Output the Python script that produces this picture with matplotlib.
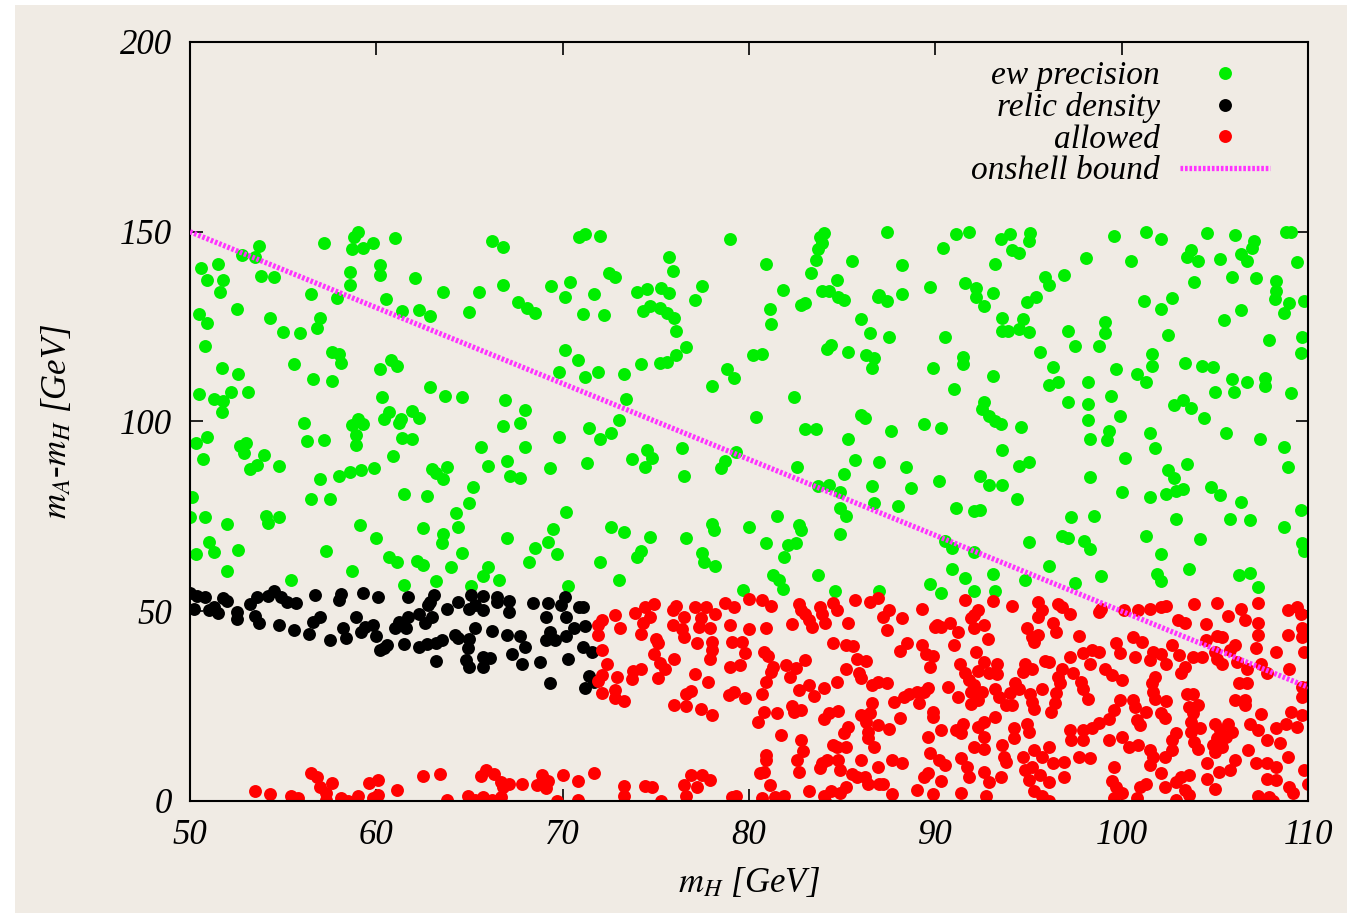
import numpy as np
import matplotlib
matplotlib.use("Agg")
import matplotlib.pyplot as plt
from matplotlib.patches import Rectangle

plt.rcParams['font.family'] = ['Liberation Serif', 'DejaVu Serif']
plt.rcParams['font.style'] = 'italic'
plt.rcParams['mathtext.fontset'] = 'stix'

# (m_H, m_A - m_H), GeV
ew_precision = np.array([
    (57.2,147.1),(59.0,150.0),(58.8,148.7),(58.7,145.4),(59.3,145.6),(59.8,147.0),(53.7,146.3),(52.8,143.9),
    (53.5,143.3),(50.6,140.4),(51.5,141.5),(50.9,137.2),(51.8,137.3),(51.6,134.0),(53.8,138.3),(54.5,138.0),
    (58.6,139.5),(58.6,136.0),(56.5,133.6),(57.9,132.6),(50.5,128.3),(50.9,126.0),(52.5,129.6),(54.3,127.3),
    (55.0,123.6),(55.9,123.4),(56.8,124.6),(57.0,127.4),(50.8,119.9),(51.7,114.0),(52.6,112.5),(55.6,115.1),
    (57.6,118.2),(58.0,117.8),(58.1,115.3),(56.6,111.1),(57.6,110.8),(50.5,107.2),(51.3,105.9),(51.8,105.4),
    (52.2,107.9),(53.1,107.9),(51.7,102.6),(56.1,99.5),(56.3,94.9),(57.2,95.1),(58.7,99.1),(59.0,100.6),
    (59.3,99.3),(58.9,96.4),(58.9,93.8),(50.3,94.3),(50.9,96.0),(50.7,90.2),(52.7,93.6),(53.0,94.3),
    (52.9,91.6),(54.0,91.2),(53.2,87.4),(53.6,88.5),(54.8,88.3),(57.0,84.8),(58.0,85.6),(58.6,86.6),
    (59.2,87.2),(59.9,87.7),(50.1,80.0),(56.5,79.7),(57.5,79.7),(50.0,74.9),(50.8,74.9),(54.1,75.2),
    (54.8,74.7),(52.0,73.0),(54.2,73.2),(51.0,68.2),(51.3,65.7),(50.3,65.0),(52.6,66.1),(52.0,60.6),
    (55.4,58.2),(57.3,66.0),(59.1,72.7),(58.7,60.7),(60.0,69.2),
    (61.0,148.4),(66.2,147.6),(66.8,146.1),(60.2,141.2),(60.2,138.6),(62.1,137.9),(63.6,134.2),(65.5,134.2),
    (66.8,136.0),(69.4,135.8),(70.1,132.9),(70.4,136.8),(60.5,132.3),(61.4,129.1),(62.3,129.5),(62.9,127.8),
    (65.0,128.9),(67.6,131.6),(68.1,129.8),(68.5,128.7),(70.1,118.8),(69.8,113.0),(60.8,116.2),(61.1,114.6),
    (60.2,113.8),(62.9,109.0),(63.7,106.7),(64.6,106.5),(66.9,105.7),(68.0,103.0),(66.8,98.9),(67.7,99.5),
    (69.8,96.0),(60.3,106.5),(60.7,102.6),(60.4,100.6),(61.3,100.6),(61.2,99.5),(61.9,102.8),(62.3,100.8),
    (61.4,95.6),(61.9,95.4),(60.9,90.9),(65.6,93.2),(68.0,93.2),(63.0,87.6),(63.2,86.3),(63.8,87.9),
    (63.6,84.8),(66.0,88.4),(67.0,89.6),(67.2,85.6),(67.7,85.2),(69.3,87.7),(61.5,80.9),(62.7,80.4),
    (65.2,82.8),(65.0,78.4),(64.3,75.8),(70.2,76.2),
    (62.5,71.9),(63.6,70.4),(63.5,67.9),(64.4,72.3),(64.6,65.3),(64.0,61.7),(60.7,64.4),(61.1,63.1),
    (62.2,63.3),(62.5,62.2),(61.5,56.9),(63.2,58.0),(66.0,61.7),(65.7,59.3),(65.1,56.7),(66.6,58.1),
    (67.0,69.2),(68.5,66.6),(69.2,68.2),(69.5,71.6),(69.7,65.1),(68.2,63.1),(70.3,56.7),
    (70.9,148.5),(71.2,149.5),(72.0,148.9),(79.0,148.2),(75.7,143.3),(75.9,139.7),(72.5,139.2),(72.8,138.0),
    (71.7,133.6),(71.1,128.2),(72.2,128.1),(74.0,134.2),(74.5,134.9),(75.3,135.1),(75.7,133.9),(77.5,135.7),
    (77.1,132.0),(74.3,129.2),(74.7,130.4),(75.2,129.8),(75.6,128.5),(76.0,127.4),(76.1,123.8),(76.6,119.7),
    (76.1,117.5),(75.2,115.3),(75.6,115.7),(74.2,115.1),(70.8,116.2),(71.2,111.6),(71.9,113.1),(73.3,112.5),
    (78.8,113.8),(79.2,111.5),(78.0,109.4),(80.2,117.5),(73.4,105.9),(73.0,100.4),(72.6,97.0),(71.4,98.2),
    (72.0,95.4),(71.3,89.1),(73.7,90.2),(74.5,92.5),(74.8,90.5),(74.4,88.1),(76.4,92.9),(76.5,85.6),
    (79.3,92.0),(78.7,89.7),(78.5,87.7),(80.4,101.1),
    (72.6,72.1),(73.3,71.0),(74.7,69.6),(74.2,66.0),(74.0,64.4),(72.0,63.1),(73.0,58.1),(76.6,69.2),
    (78.0,73.0),(78.1,71.4),(77.5,65.4),(77.6,63.1),(78.2,61.9),(80.0,72.3),(79.7,55.7),
    (84.0,149.8),(83.8,148.5),(83.9,147.1),(83.7,145.5),(83.6,142.6),(83.3,139.1),(84.7,137.4),(85.5,142.4),
    (87.4,150.0),(88.2,141.2),(89.7,135.5),(90.4,145.6),(80.9,141.5),(81.8,134.7),(81.1,129.6),(81.2,125.7),
    (82.8,130.7),(83.0,131.3),(83.9,134.4),(84.3,134.4),(84.8,132.7),(85.1,132.0),(86.9,132.9),(87.0,133.3),
    (87.4,131.8),(88.2,133.6),(86.0,127.1),(86.5,123.4),(87.5,122.3),(90.5,122.3),(80.7,117.9),(84.2,119.2),
    (84.4,120.2),(85.3,118.4),(86.3,117.5),(86.7,116.8),(86.6,114.0),(89.9,114.1),(82.4,106.5),(83.0,97.9),
    (83.6,97.9),(86.0,101.7),(86.2,101.0),(85.3,95.3),(87.6,97.5),(89.4,99.3),(90.3,98.2),(82.6,88.1),
    (85.7,89.9),(85.1,86.2),(87.0,89.2),(88.4,87.9),(90.2,84.4),(83.7,83.0),(84.3,83.3),(84.9,81.5),
    (86.6,83.0),(88.7,82.6),(86.7,78.4),(88.0,77.7),(84.9,77.3),(85.2,75.1),(81.5,75.1),
    (82.7,72.7),(82.8,71.4),(84.9,70.4),(80.9,68.1),(82.1,67.5),(82.5,68.1),(81.9,64.2),(81.3,59.6),
    (81.6,58.2),(81.8,55.9),(83.7,59.6),(84.6,55.2),(87.0,55.4),(89.7,57.2),(90.3,54.7),
    (91.1,149.4),(91.8,150.0),(93.5,148.2),(94.0,149.4),(95.1,149.6),(95.0,147.6),(94.1,145.2),(94.5,144.3),
    (93.2,141.5),(98.1,143.0),(99.6,148.9),(100.5,142.4),(91.6,136.6),(92.2,135.3),(92.2,132.9),(92.6,130.4),
    (93.1,133.9),(95.9,138.0),(96.1,136.0),(96.9,138.6),(94.9,131.6),(95.4,132.7),(93.6,127.4),(94.7,127.1),
    (93.6,123.8),(93.9,123.8),(94.5,124.3),(95.0,123.5),(97.1,123.9),(99.1,126.3),(99.1,123.2),(97.5,119.9),
    (98.8,119.9),(95.6,118.4),(91.5,116.9),(91.5,115.1),(93.1,112.0),(96.3,114.4),(96.6,110.5),(96.1,109.6),
    (99.7,113.7),(98.2,110.3),(91.0,108.6),(97.1,105.2),(98.2,104.6),(99.4,106.7),(99.9,101.5),(98.2,100.4),
    (99.3,97.5),(99.2,95.1),(98.3,95.3),(92.6,105.2),(92.5,103.2),(92.9,101.4),(93.2,100.1),(93.5,99.3),
    (94.6,98.6),(93.6,92.5),(94.5,88.3),(95.0,89.4),(100.2,90.5),(98.3,85.3),(92.4,85.6),(92.9,83.3),
    (93.6,83.3),(94.4,79.7),(91.1,77.1),(92.1,76.4),(92.4,76.8),(100.0,81.5),(97.3,74.9),(98.5,75.1),
    (95.0,68.3),(96.8,69.8),(97.1,69.2),(98.0,68.5),(98.3,66.3),(90.5,68.6),(90.9,66.6),(92.1,65.7),
    (90.9,61.0),(91.6,58.8),(93.1,59.8),(92.1,55.3),(93.2,55.3),(94.8,58.1),(96.1,61.9),(97.5,57.5),
    (98.9,59.3),
    (101.3,150.0),(102.1,148.2),(104.6,149.8),(106.1,149.1),(107.1,147.6),(107.0,145.6),(108.8,150.0),(109.1,150.0),
    (103.7,145.3),(103.5,143.4),(104.1,142.4),(105.3,142.7),(106.4,144.1),(106.7,142.4),(109.4,142.1),(103.9,136.8),
    (105.9,138.2),(107.2,137.7),(108.3,137.0),(108.3,134.4),(108.2,132.3),(109.0,131.3),(108.7,128.5),(109.8,131.8),
    (101.2,131.8),(102.1,129.6),(102.7,132.6),(106.4,129.5),(105.5,126.7),(102.5,122.8),(107.9,121.5),(109.7,122.2),
    (109.6,118.1),(101.6,117.8),(101.6,114.7),(103.4,115.3),(104.3,114.7),(104.9,114.4),(100.8,112.4),(101.3,110.5),
    (105.9,111.2),(106.7,110.5),(107.7,111.4),(107.7,109.4),(105.0,107.9),(106.0,107.7),(109.1,107.4),(102.8,104.3),
    (103.3,105.7),(103.7,103.6),(104.4,100.8),(101.5,97.0),(101.8,92.9),(105.6,96.9),(107.4,95.5),(108.7,93.2),
    (108.9,87.9),(102.5,87.2),(102.8,85.2),(103.5,88.9),(102.4,81.0),(102.9,81.7),(103.3,82.3),(104.8,82.8),
    (105.3,80.6),(106.4,78.9),(101.5,80.0),(109.6,76.7),(102.9,74.2),(105.8,74.4),(106.9,74.0),
    (108.7,72.1),(101.3,69.9),(104.2,69.0),(109.7,67.9),(109.8,65.9),(102.1,65.2),(103.6,61.1),(101.9,59.8),
    (102.1,58.0),(106.3,59.6),(106.9,60.2),(107.3,56.5),
])

relic_density = np.array([
    (50.0,54.7),(50.4,54.0),(50.8,53.7),(50.2,50.5),(51.0,50.3),(51.5,49.5),(51.3,51.2),(51.8,53.4),
    (52.0,52.8),(52.5,49.9),(52.5,48.0),(53.2,51.9),(53.6,53.7),(53.5,48.7),(53.7,46.8),(54.2,54.0),
    (54.5,55.2),(54.9,53.7),(55.2,52.5),(55.7,52.1),(54.8,46.5),(55.6,45.1),(56.7,54.3),(57.0,48.6),
    (56.6,47.1),(56.4,44.0),(57.5,42.4),(58.1,54.5),(58.0,53.0),(59.3,54.9),(58.9,48.6),(59.4,45.9),
    (59.2,44.6),(59.8,46.4),(58.2,45.5),(58.4,42.9),(60.1,53.7),(60.0,43.5),(60.2,39.8),
    (61.7,53.8),(63.1,54.3),(62.9,52.5),(62.8,51.6),(62.3,49.4),(61.7,48.6),(61.2,47.2),(61.0,45.5),
    (61.6,45.5),(62.6,46.8),(63.0,48.4),(63.8,50.6),(64.4,52.5),(65.1,54.3),(65.0,50.5),(65.3,51.6),
    (65.7,54.0),(65.7,50.3),(66.5,53.7),(66.5,52.5),(67.1,52.7),(67.1,49.9),(60.4,40.2),(60.6,41.1),
    (61.5,41.4),(62.3,40.6),(62.7,41.4),(63.2,41.5),(63.5,42.4),(63.2,37.0),(64.2,43.7),(64.4,43.0),
    (65.0,42.8),(64.9,40.2),(64.8,37.1),(65.0,35.4),(65.3,45.5),(65.7,38.0),(66.1,37.8),(65.7,35.4),
    (66.2,44.8),(67.0,43.7),(67.7,43.5),(68.0,40.6),(67.3,38.7),(67.8,36.1),(68.8,36.7),(68.4,52.1),
    (69.2,52.1),(69.9,51.6),(70.1,53.7),(69.1,48.6),(70.2,48.6),(69.3,44.6),(69.1,42.4),(69.6,42.4),
    (70.2,43.5),(70.3,37.5),(69.3,31.2),
    (70.9,51.2),(71.1,51.0),(71.2,46.1),(70.6,45.5),(71.1,40.6),(71.6,39.3),(71.4,32.9),(71.7,31.4),
    (71.2,29.9),
])

allowed = np.array([
    (53.5,2.6),(54.3,1.8),(55.4,1.3),(55.8,0.7),(56.5,7.3),(56.8,6.4),(57.0,3.6),(57.6,4.7),
    (57.3,2.0),(57.3,0.3),(58.1,0.7),(58.5,0.0),(59.0,1.3),(59.6,4.7),(60.1,5.5),(59.8,0.7),
    (60.1,1.6),(61.1,2.9),(62.5,6.6),(63.4,7.1),(63.8,0.3),(64.9,1.3),(65.3,0.3),(65.7,1.0),
    (66.2,0.3),(66.7,1.1),(65.6,6.7),(65.9,8.2),(66.3,7.1),(66.7,5.1),(67.1,4.5),(66.8,3.8),
    (67.8,4.6),(68.6,4.2),(68.9,6.9),(69.2,5.3),(69.1,3.3),(70.0,6.9),(69.7,0.0),
    (72.1,47.7),(71.9,46.4),(71.9,43.7),(72.8,49.0),(73.1,45.7),(72.1,39.8),(72.4,36.0),(72.1,33.2),
    (71.9,31.7),(72.1,28.5),(72.9,32.6),(72.8,29.2),(72.8,27.2),(73.3,26.4),(73.9,49.6),(74.4,51.2),
    (74.9,51.9),(74.7,48.6),(74.3,46.8),(74.2,44.1),(75.0,42.8),(75.1,41.5),(74.9,38.7),(75.2,36.4),
    (75.5,34.9),(75.1,32.3),(76.0,37.3),(74.2,34.7),(73.8,34.3),(73.7,32.1),(75.9,50.3),(76.1,51.4),
    (75.9,46.4),(76.5,48.4),(76.4,45.2),(76.5,43.1),(77.1,51.0),(77.4,48.1),(77.3,45.9),(77.2,41.5),
    (77.7,51.2),(78.2,49.4),(77.9,45.5),(78.0,42.0),(78.0,39.8),(77.9,37.3),(77.1,33.5),(77.8,31.4),
    (76.9,29.0),(76.6,28.2),(76.0,25.3),(76.6,25.0),(77.4,24.2),(78.0,22.7),(78.7,52.1),(79.2,51.2),
    (80.0,53.1),(79.0,46.4),(80.0,45.2),(79.1,42.0),(79.6,42.0),(79.8,38.9),(79.0,35.2),(79.5,35.8),
    (79.2,28.8),(78.9,27.9),(79.8,27.1),(80.5,20.9),(70.8,5.3),(71.7,7.3),(70.8,0.3),(73.3,4.0),
    (73.3,1.3),(74.4,4.0),(74.8,3.6),(75.3,0.0),(76.5,4.2),(76.6,1.3),(76.9,6.9),(77.2,3.8),
    (77.5,6.9),(77.9,5.5),(79.1,1.0),(79.3,1.3),(80.6,7.3),
    (80.7,53.0),(81.2,51.4),(82.7,51.9),(82.8,50.3),(83.0,49.4),(83.2,47.7),(83.4,45.9),(83.8,51.0),
    (83.9,49.4),(84.1,47.0),(84.5,52.2),(84.7,50.3),(82.3,46.6),(80.9,45.7),(85.3,46.8),(85.7,53.0),
    (86.5,52.5),(86.9,53.4),(87.2,48.6),(87.5,50.3),(87.4,45.1),(88.2,48.1),(89.3,50.7),(90.0,45.9),
    (90.3,45.9),(84.5,41.7),(85.2,41.2),(85.6,40.8),(85.8,37.5),(86.3,36.9),(85.2,34.8),(85.9,33.6),
    (86.0,32.3),(86.6,30.6),(86.9,31.4),(87.4,31.0),(84.7,31.4),(88.1,39.5),(88.5,41.7),(89.3,41.1),
    (89.5,38.7),(89.9,38.2),(89.7,35.4),(80.8,39.3),(81.0,38.2),(81.3,35.4),(81.2,34.1),(82.0,35.8),
    (82.5,35.0),(82.2,32.8),(83.0,37.2),(80.9,31.4),(80.7,28.2),(82.7,29.2),(83.2,30.6),(83.5,27.7),
    (84.0,29.8),(82.3,25.0),(82.4,23.5),(82.8,24.0),(80.8,23.4),(81.5,23.1),(84.0,21.5),(84.3,23.2),
    (84.8,23.7),(86.0,22.7),(86.6,25.9),(86.5,23.1),(86.3,20.8),(86.9,20.0),(86.4,18.2),(86.4,16.5),
    (85.3,19.6),(85.1,18.0),(87.5,19.0),(88.1,21.8),(87.8,26.2),(88.3,27.3),(88.6,28.3),(89.0,28.8),
    (89.4,28.8),(89.6,29.9),(89.1,25.7),(89.9,23.5),(89.9,22.2),(90.3,18.7),(89.6,16.9),(89.7,12.7),
    (90.2,10.8),(81.7,17.4),(82.8,16.1),(82.9,13.3),(80.9,12.1),(80.9,10.9),(82.6,10.8),(82.7,7.7),
    (80.8,7.7),(81.1,4.2),(80.7,0.7),(81.4,1.1),(81.9,1.3),(83.2,2.6),(84.0,1.3),(84.1,0.0),
    (84.4,2.7),(84.9,2.2),(85.2,3.8),(84.5,14.8),(84.7,14.1),(85.2,14.1),(83.9,9.9),(84.2,10.8),
    (84.8,10.9),(84.9,8.2),(83.8,8.6),(85.5,7.2),(86.0,10.8),(85.8,6.4),(86.2,6.4),(86.4,4.6),
    (86.9,9.0),(87.0,4.6),(87.2,4.6),(87.7,10.8),(88.2,9.9),(87.7,1.8),(89.0,2.9),(89.4,6.4),
    (89.6,7.3),(89.9,1.8),(90.3,5.3),(86.7,14.3),
    (91.6,53.0),(93.1,52.7),(94.1,51.4),(95.5,52.5),(95.7,50.3),(95.5,48.6),(96.6,51.9),(96.8,51.2),
    (97.2,49.3),(98.8,49.9),(98.9,50.7),(100.1,50.3),(92.3,50.3),(92.1,49.0),(91.9,48.1),(90.1,46.4),
    (90.8,46.8),(91.2,44.6),(92.1,45.7),(92.6,46.4),(92.8,42.8),(91.0,41.1),(94.9,45.7),(95.2,43.3),
    (95.5,43.7),(95.3,42.0),(96.3,46.8),(96.5,44.6),(97.7,43.5),(92.2,39.3),(91.3,36.1),(91.6,33.6),
    (91.8,31.9),(92.6,36.7),(92.3,34.3),(92.9,33.6),(93.3,36.1),(93.3,33.5),(92.1,30.6),(91.9,28.8),
    (92.5,28.8),(92.3,26.6),(91.9,25.6),(90.7,30.1),(91.2,27.3),(93.2,29.6),(93.4,27.5),(93.8,25.3),
    (94.1,25.3),(94.3,31.2),(94.5,29.6),(94.0,28.5),(94.8,36.1),(95.2,34.7),(94.7,34.1),(95.1,28.3),
    (95.2,26.2),(95.3,24.2),(95.7,29.6),(95.9,37.0),(96.1,36.7),(96.8,34.9),(96.6,32.8),(96.7,31.0),
    (96.5,28.4),(96.4,25.7),(96.2,23.5),(97.2,38.0),(97.4,33.6),(97.8,31.4),(97.9,29.6),(98.2,27.0),
    (97.9,38.9),(98.4,39.8),(98.8,39.3),(98.3,36.2),(99.1,34.9),(99.5,33.2),(99.7,41.5),(99.9,38.9),
    (100.0,31.9),(99.9,26.6),(99.6,24.0),(99.3,21.7),(98.8,20.5),(98.4,19.2),(97.9,18.7),(97.2,18.7),
    (97.3,16.1),(97.9,16.1),(99.3,16.1),(100.0,16.9),(91.1,18.7),(91.5,20.4),(91.4,17.8),(92.3,19.6),
    (92.6,20.9),(93.2,22.2),(92.6,16.9),(94.2,19.2),(94.2,16.5),(94.9,20.4),(95.0,18.2),(92.1,14.3),
    (92.6,13.8),(93.6,14.8),(93.7,11.7),(93.8,10.4),(90.5,9.5),(91.4,11.2),(91.7,9.0),(91.8,6.4),
    (92.6,7.7),(92.9,5.1),(93.5,6.4),(91.4,2.2),(92.7,1.3),(94.7,11.7),(95.3,13.4),(95.7,11.7),
    (96.1,14.3),(96.3,9.9),(96.9,10.4),(95.2,9.0),(94.8,8.2),(95.6,6.9),(96.1,5.1),(95.0,5.5),
    (95.3,2.6),(95.7,1.3),(96.1,0.0),(96.9,6.4),(97.7,11.7),(98.3,11.2),(99.6,9.0),(99.5,5.3),
    (99.7,3.8),(100.0,2.0),(99.6,0.7),
    (100.9,50.3),(101.5,50.6),(102.1,51.0),(102.4,51.4),(103.9,51.9),(105.1,52.1),(106.4,50.5),(107.3,52.1),
    (108.9,50.3),(109.4,51.2),(109.6,49.4),(103.0,47.7),(103.4,46.8),(104.5,46.6),(105.7,48.7),(106.6,47.7),
    (107.3,46.8),(109.7,45.5),(108.9,43.7),(109.7,43.3),(105.1,43.5),(105.4,43.3),(107.3,43.7),(104.5,42.4),
    (106.1,41.1),(105.8,39.8),(107.2,40.4),(108.3,39.3),(109.8,39.3),(100.6,43.3),(101.1,42.0),(100.7,38.0),
    (101.7,39.3),(102.1,38.7),(102.7,41.1),(101.5,37.2),(102.4,36.2),(103.1,38.5),(103.8,38.0),(104.3,38.0),
    (103.2,33.6),(103.4,35.4),(105.0,39.3),(105.1,37.5),(105.4,36.2),(106.2,36.7),(106.7,34.9),(107.5,36.2),
    (107.8,33.6),(109.0,34.9),(109.7,30.1),(110.0,30.1),(109.7,27.5),(101.8,32.8),(101.6,31.0),(101.7,28.8),
    (101.8,27.0),(102.4,26.4),(100.6,26.6),(100.7,24.8),(101.3,23.5),(100.8,21.3),(101.0,20.0),(102.1,23.1),
    (102.3,21.8),(103.5,28.3),(103.8,28.3),(103.6,24.8),(104.1,25.3),(103.8,23.1),(103.7,20.8),(104.2,19.2),
    (103.7,18.2),(103.9,15.6),(104.1,13.8),(105.0,20.4),(105.3,18.7),(105.7,20.4),(105.9,18.2),(105.1,16.5),
    (105.6,16.9),(105.4,14.3),(104.9,14.8),(105.0,13.0),(106.3,31.0),(106.7,31.0),(106.1,26.6),(106.6,26.7),
    (106.6,25.3),(107.5,22.9),(106.9,20.4),(107.3,18.7),(107.8,16.1),(108.3,19.2),(108.8,20.4),(109.1,23.5),
    (109.7,22.7),(109.4,19.6),(108.5,15.2),(106.8,13.4),(106.1,10.9),(105.8,8.2),(104.6,9.9),(105.2,7.7),
    (104.6,5.9),(105.0,3.2),(107.2,9.9),(107.8,9.9),(108.3,9.0),(108.9,11.7),(107.8,5.7),(108.3,5.5),
    (109.8,8.2),(110.0,4.6),(109.0,3.8),(109.2,2.0),(107.3,1.3),(107.9,1.1),(108.1,0.0),(100.4,14.3),
    (100.9,14.8),(101.5,13.4),(101.7,11.7),(102.3,11.7),(102.7,13.4),(102.7,16.1),(102.9,17.8),(101.5,9.5),
    (102.1,7.3),(101.3,4.6),(101.0,3.8),(102.3,3.8),(102.9,5.1),(103.2,6.4),(103.6,6.9),(103.4,2.9),
    (103.6,1.6),(102.9,0.3),(100.8,0.7),
])

# onshell bound: m_A - m_H = 250 - 2 m_H
onshell_mh = np.array([50.0, 110.0])
onshell_dm = 250.0 - 2.0 * onshell_mh

bg = '#f0ebe4'
fig = plt.figure(figsize=(13.52, 9.13), dpi=100, facecolor='white')
fig.patches.append(Rectangle((0.011, 0.0), 0.985, 0.994, transform=fig.transFigure,
                             facecolor=bg, edgecolor='none', zorder=-10))
ax = fig.add_axes([0.1405, 0.1227, 0.827, 0.8313])
ax.set_facecolor(bg)

ms = 9.3
ax.plot(ew_precision[:, 0], ew_precision[:, 1], 'o', color='#00ee00', ms=ms, mec='none', label='ew precision')
ax.plot(relic_density[:, 0], relic_density[:, 1], 'o', color='black', ms=ms, mec='none', label='relic density')
ax.plot(allowed[:, 0], allowed[:, 1], 'o', color='#ff0000', ms=ms, mec='none', label='allowed')
ax.plot(onshell_mh, onshell_dm, color='#ff33ff', lw=3.8, dashes=(0.5, 0.35),
        solid_capstyle='butt', dash_capstyle='butt', label='onshell bound', zorder=5)

ax.set_xlim(50, 110)
ax.set_ylim(0, 200)
ax.set_xticks(range(50, 111, 10))
ax.set_yticks(range(0, 201, 50))
ax.tick_params(direction='in', length=9, width=1.2, top=True, right=True, labelsize=25, pad=13)
for s in ax.spines.values():
    s.set_linewidth(1.5)

ax.set_xlabel(r'$m_H$ [GeV]', fontsize=25, labelpad=10)
ax.set_ylabel(r'$m_A$-$m_H$ [GeV]', fontsize=25, labelpad=33)

ax.legend(loc='upper right', bbox_to_anchor=(0.966, 0.975), frameon=False, markerfirst=False,
          fontsize=24, handlelength=2.7, handletextpad=0.6, labelspacing=0.03, numpoints=1,
          borderaxespad=0, borderpad=0)

fig.savefig('out.png', dpi=100, facecolor=fig.get_facecolor())
